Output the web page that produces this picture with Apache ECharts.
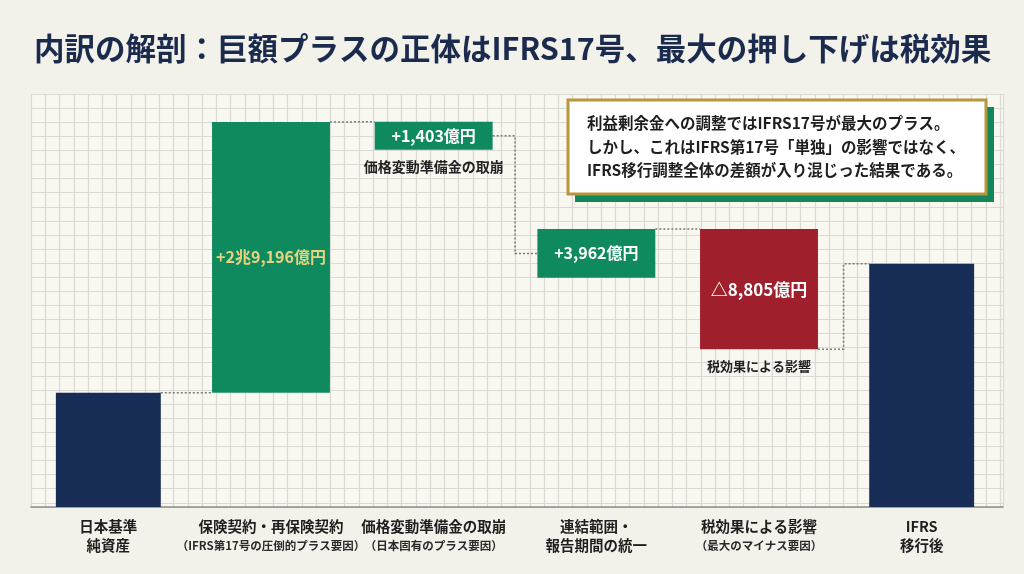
<!DOCTYPE html>
<html><head><meta charset="utf-8">
<script src="https://cdn.jsdelivr.net/npm/echarts@6/dist/echarts.min.js"></script>
<style>html,body{margin:0;padding:0;background:#f3f2ea;}#c{width:1024px;height:574px;}</style>
</head><body><div id="c"></div>
<script>
// ---- data (values in 億円) ----
const titleText = '内訳の解剖：巨額プラスの正体はIFRS17号、最大の押し下げは税効果';
const categoriesLine1 = ['日本基準', '保険契約・再保険契約', '価格変動準備金の取崩', '連結範囲・', '税効果による影響', 'IFRS'];
const categoriesLine2 = ['純資産', '（IFRS第17号の圧倒的プラス要因）', '（日本固有のプラス要因）', '報告期間の統一', '（最大のマイナス要因）', '移行後'];
const barLow  = [0, 12300, 38500, 24700, 17000, 0];
const barHigh = [12300, 41496, 41500, 29950, 29950, 26200];
const barKind = ['total', 'up', 'up', 'up', 'down', 'total'];
const valueLabels = ['', '+2兆9,196億円', '+1,403億円', '+3,962億円', '△8,805億円', ''];
const noteBelow = ['', '', '価格変動準備金の取崩', '', '税効果による影響', ''];
const linkFrom = ['high', 'high', 'mid', 'high', 'low'];
const linkTo   = ['low', 'high', 'mid', 'high', 'high'];
const calloutLines = [
  '利益剰余金への調整ではIFRS17号が最大のプラス。',
  'しかし、これはIFRS第17号「単独」の影響ではなく、',
  'IFRS移行調整全体の差額が入り混じった結果である。'
];

const FONT = '"Noto Sans CJK JP", "Noto Sans", sans-serif';
const colors = { total: '#172d55', up: '#0f8a5e', down: '#a01f2c' };
const widthFrac = { total: 0.645, up: 0.725, down: 0.725 };

function anchorVal(i, a) {
  if (a === 'high') return barHigh[i];
  if (a === 'low') return barLow[i];
  return (barLow[i] + barHigh[i]) / 2;
}

const barData = barLow.map((lo, i) => [i, lo, barHigh[i]]);
const linkData = linkFrom.map((a, i) => [i, anchorVal(i, a), anchorVal(i + 1, linkTo[i])]);

function renderBar(params, api) {
  const i = api.value(0);
  const lo = api.value(1), hi = api.value(2);
  const band = api.size([1, 0])[0];
  const kind = barKind[i];
  const w = band * widthFrac[kind];
  const pLo = api.coord([i, lo]), pHi = api.coord([i, hi]);
  const children = [{
    type: 'rect',
    shape: { x: pLo[0] - w / 2, y: pHi[1], width: w, height: pLo[1] - pHi[1] },
    style: { fill: colors[kind] }
  }];
  if (valueLabels[i]) {
    children.push({
      type: 'text',
      style: {
        text: valueLabels[i], x: pLo[0], y: (pLo[1] + pHi[1]) / 2,
        align: 'center', verticalAlign: 'middle',
        fill: i === 1 ? '#ead27c' : '#ffffff',
        fontSize: kind === 'down' ? 17 : 16, fontWeight: 'bold', fontFamily: FONT
      }
    });
  }
  if (noteBelow[i]) {
    children.push({
      type: 'text',
      style: {
        text: noteBelow[i], x: pLo[0], y: pLo[1] + 17,
        align: 'center', verticalAlign: 'middle',
        fill: '#222222', fontSize: i === 2 ? 14 : 13, fontWeight: 'bold', fontFamily: FONT
      }
    });
  }
  return { type: 'group', children };
}

function renderLink(params, api) {
  const i = api.value(0);
  const band = api.size([1, 0])[0];
  const wL = band * widthFrac[barKind[i]];
  const wR = band * widthFrac[barKind[i + 1]];
  const pA = api.coord([i, api.value(1)]);
  const pB = api.coord([i + 1, api.value(2)]);
  const x1 = pA[0] + wL / 2, x2 = pB[0] - wR / 2, xm = (x1 + x2) / 2;
  return {
    type: 'polyline',
    shape: { points: [[x1, pA[1]], [xm, pA[1]], [xm, pB[1]], [x2, pB[1]]] },
    style: { stroke: '#7a7a7a', lineWidth: 1.5, lineDash: [2, 2], fill: null }
  };
}

const chart = echarts.init(document.getElementById('c'));
chart.setOption({
  backgroundColor: '#f3f2ea',
  animation: false,
  title: {
    text: titleText, left: 29, top: 28,
    textStyle: { fontFamily: FONT, fontSize: 30.5, fontWeight: 'bold', color: '#1b2b4e' }
  },
  grid: [
    { left: 27, right: 21, top: 94, bottom: 67 },
    { left: 31, right: 21, top: 94, bottom: 67, show: true, backgroundColor: '#f8f7f0', borderWidth: 0 }
  ],
  xAxis: [
    {
      type: 'category', gridIndex: 0, data: categoriesLine1,
      axisLine: { show: false }, axisTick: { show: false }, splitLine: { show: false },
      axisLabel: {
        interval: 0, margin: 10,
        formatter: (v, idx) => {
          const sub = categoriesLine2[idx].startsWith('（') ? 's' : 'a';
          return '{a|' + categoriesLine1[idx] + '}\n{' + sub + '|' + categoriesLine2[idx] + '}';
        },
        rich: {
          a: { fontFamily: FONT, fontSize: 14.5, fontWeight: 'bold', color: '#1e1e1e', lineHeight: 19 },
          s: { fontFamily: FONT, fontSize: 11.5, fontWeight: 'bold', color: '#2a2a2a', lineHeight: 19 }
        }
      }
    },
    {
      type: 'value', gridIndex: 1, min: 0, max: 68.2, interval: 1, position: 'bottom',
      axisLabel: { show: false }, axisTick: { show: false },
      axisLine: { show: true, onZero: false, lineStyle: { color: '#8c8c8c', width: 1.5 } },
      splitLine: { show: true, lineStyle: { color: '#dad9d3', width: 1.2 } }
    }
  ],
  yAxis: [
    { type: 'value', gridIndex: 0, min: 0, max: 44500, show: false, splitLine: { show: false } },
    {
      type: 'value', gridIndex: 1, min: 0, max: 29.3, interval: 1, inverse: true,
      axisLabel: { show: false }, axisTick: { show: false }, axisLine: { show: false },
      splitLine: { show: true, lineStyle: { color: '#dad9d3', width: 1.2 } }
    }
  ],
  series: [
    { type: 'custom', xAxisIndex: 0, yAxisIndex: 0, data: linkData, renderItem: renderLink, z: 3, encode: { x: 0, y: [1, 2] } },
    { type: 'custom', xAxisIndex: 0, yAxisIndex: 0, data: barData, renderItem: renderBar, z: 4, encode: { x: 0, y: [1, 2] } }
  ],
  graphic: [
    { type: 'rect', z: 100, shape: { x: 575, y: 107, width: 419, height: 95 }, style: { fill: '#13875c' } },
    { type: 'rect', z: 101, shape: { x: 568, y: 100, width: 418, height: 94 }, style: { fill: '#ffffff', stroke: '#b8963d', lineWidth: 3 } },
    ...calloutLines.map((t, k) => ({
      type: 'text', z: 102,
      style: { text: t, x: 587, y: 123.5 + k * 23.3, verticalAlign: 'middle', fill: '#1e1e1e', fontSize: 15.5, fontWeight: 'bold', fontFamily: FONT }
    }))
  ]
});
</script></body></html>
